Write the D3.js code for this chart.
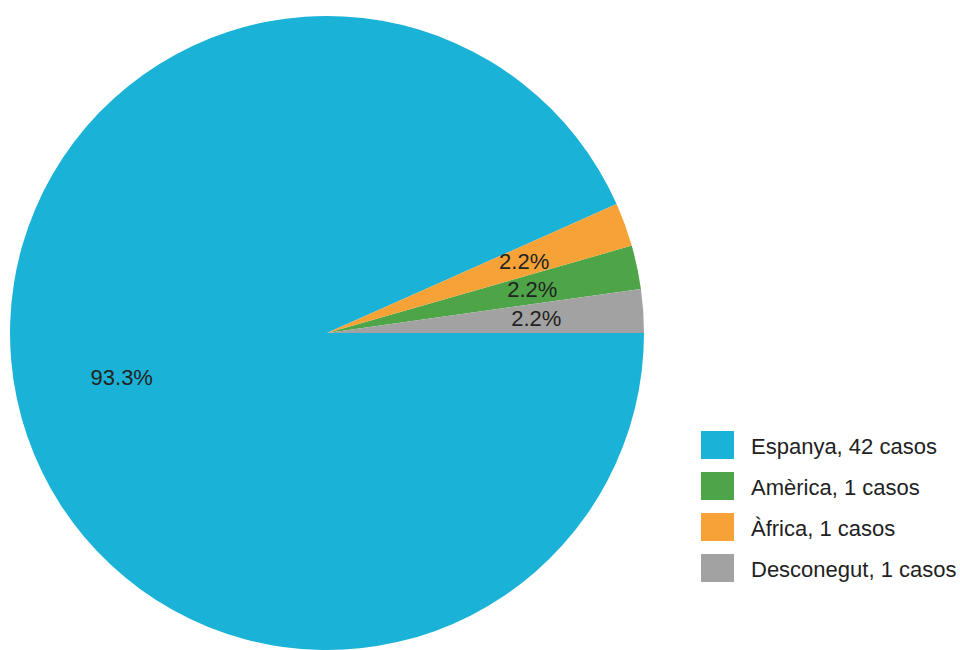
<!DOCTYPE html>
<html>
<head>
<meta charset="utf-8">
<script src="https://cdn.jsdelivr.net/npm/d3@7"></script>
<style>
  html, body { margin: 0; padding: 0; background: #fff; }
  svg { display: block; font-family: Arial, "Liberation Sans", sans-serif; }
</style>
</head>
<body>
<svg id="chart" width="960" height="650"></svg>
<script>
// Cases by origin (legend order)
const categories = ["Espanya", "Amèrica", "Àfrica", "Desconegut"];
const cases = [42, 1, 1, 1];
const colors = ["#1bb2d7", "#4ea548", "#f7a236", "#a2a2a2"];
// Order in which slices are laid out clockwise from 3 o'clock
const sliceOrder = ["Espanya", "Àfrica", "Amèrica", "Desconegut"];

const data = categories.map((c, i) => ({ name: c, value: cases[i], color: colors[i] }));
const total = d3.sum(cases);

const svg = d3.select("#chart");
const cx = 327, cy = 333, radius = 317;

const pie = d3.pie()
  .value(d => d.value)
  .sort((a, b) => sliceOrder.indexOf(a.name) - sliceOrder.indexOf(b.name))
  .startAngle(Math.PI / 2)
  .endAngle(Math.PI / 2 + 2 * Math.PI);

const arc = d3.arc().innerRadius(0).outerRadius(radius);
const labelArc = d3.arc().innerRadius(radius * 0.662).outerRadius(radius * 0.662);

const g = svg.append("g").attr("transform", `translate(${cx},${cy})`);
const arcs = pie(data);

g.selectAll("path.slice")
  .data(arcs)
  .join("path")
  .attr("class", "slice")
  .attr("d", arc)
  .attr("fill", d => d.data.color);

const pct = d3.format(".1f");
g.selectAll("text.pct")
  .data(arcs)
  .join("text")
  .attr("class", "pct")
  .attr("transform", d => `translate(${labelArc.centroid(d)})`)
  .attr("text-anchor", "middle")
  .attr("dy", "0.36em")
  .attr("font-size", 22)
  .attr("fill", "#222")
  .text(d => pct(d.data.value / total * 100) + "%");

// Legend
const legend = svg.append("g").attr("transform", "translate(701,431)");
const row = legend.selectAll("g")
  .data(data)
  .join("g")
  .attr("transform", (d, i) => `translate(0,${i * 41})`);

row.append("rect")
  .attr("width", 33)
  .attr("height", 28)
  .attr("fill", d => d.color);

row.append("text")
  .attr("x", 50)
  .attr("y", 23)
  .attr("font-size", 22)
  .attr("fill", "#222")
  .text(d => `${d.name}, ${d.value} casos`);
</script>
</body>
</html>
